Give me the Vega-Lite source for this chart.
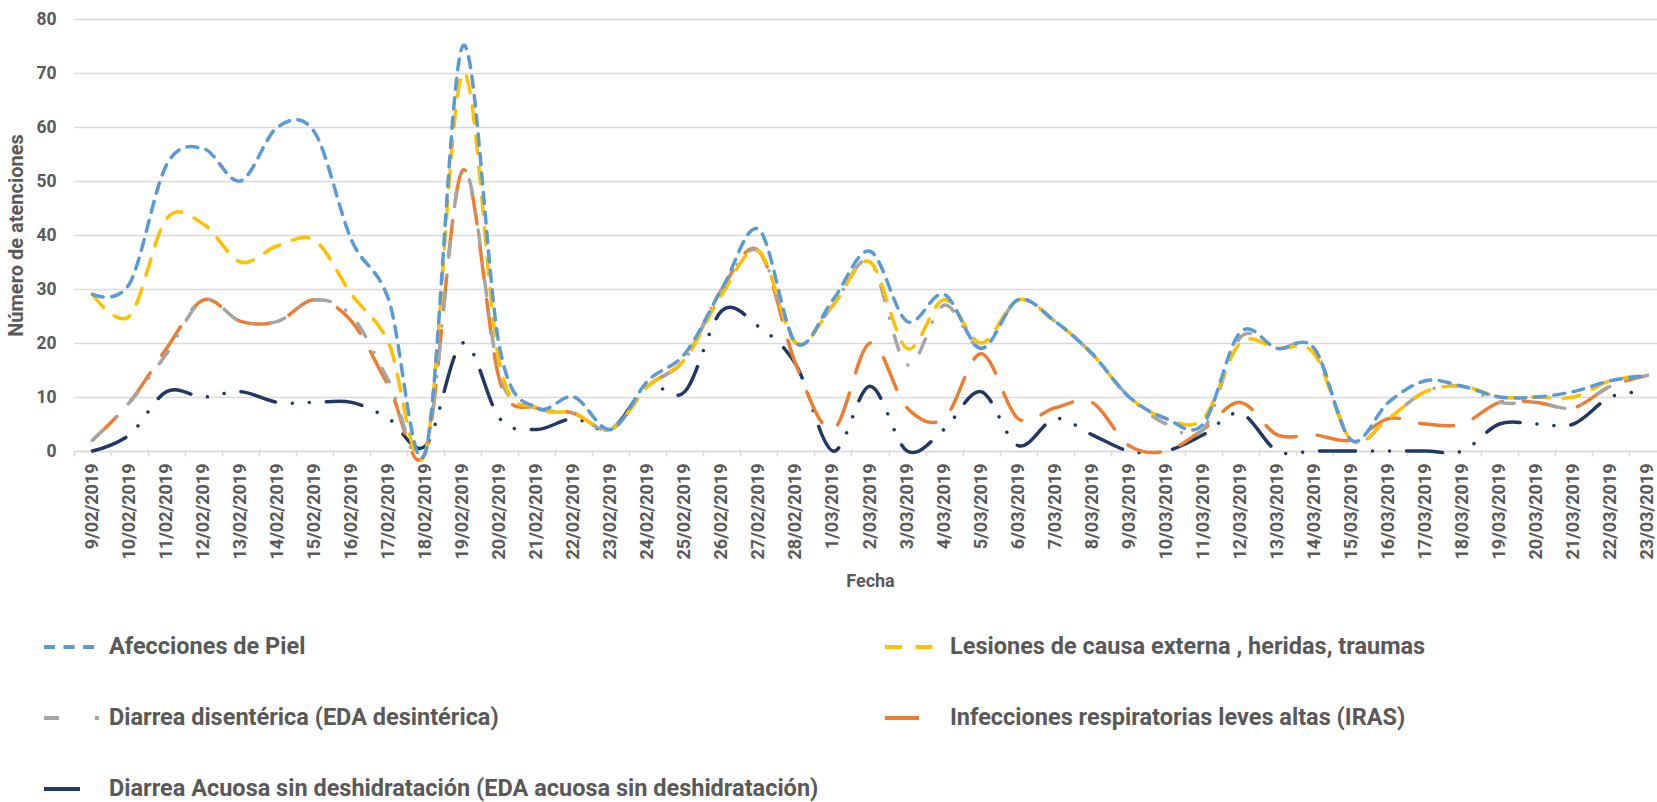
{
  "$schema": "https://vega.github.io/schema/vega-lite/v6.json",
  "width": 1583,
  "height": 432,
  "autosize": {"type": "none"},
  "padding": {"left": 74, "top": 19, "right": 0, "bottom": 351},
  "background": "white",
  "datasets": {
    "rows": [
      {"fecha":"9/02/2019","serie":"Diarrea Acuosa sin deshidratación (EDA acuosa sin deshidratación)","valor":0},
      {"fecha":"10/02/2019","serie":"Diarrea Acuosa sin deshidratación (EDA acuosa sin deshidratación)","valor":3},
      {"fecha":"11/02/2019","serie":"Diarrea Acuosa sin deshidratación (EDA acuosa sin deshidratación)","valor":11},
      {"fecha":"12/02/2019","serie":"Diarrea Acuosa sin deshidratación (EDA acuosa sin deshidratación)","valor":10},
      {"fecha":"13/02/2019","serie":"Diarrea Acuosa sin deshidratación (EDA acuosa sin deshidratación)","valor":11},
      {"fecha":"14/02/2019","serie":"Diarrea Acuosa sin deshidratación (EDA acuosa sin deshidratación)","valor":9},
      {"fecha":"15/02/2019","serie":"Diarrea Acuosa sin deshidratación (EDA acuosa sin deshidratación)","valor":9},
      {"fecha":"16/02/2019","serie":"Diarrea Acuosa sin deshidratación (EDA acuosa sin deshidratación)","valor":9},
      {"fecha":"17/02/2019","serie":"Diarrea Acuosa sin deshidratación (EDA acuosa sin deshidratación)","valor":6},
      {"fecha":"18/02/2019","serie":"Diarrea Acuosa sin deshidratación (EDA acuosa sin deshidratación)","valor":1},
      {"fecha":"19/02/2019","serie":"Diarrea Acuosa sin deshidratación (EDA acuosa sin deshidratación)","valor":20},
      {"fecha":"20/02/2019","serie":"Diarrea Acuosa sin deshidratación (EDA acuosa sin deshidratación)","valor":6},
      {"fecha":"21/02/2019","serie":"Diarrea Acuosa sin deshidratación (EDA acuosa sin deshidratación)","valor":4},
      {"fecha":"22/02/2019","serie":"Diarrea Acuosa sin deshidratación (EDA acuosa sin deshidratación)","valor":6},
      {"fecha":"23/02/2019","serie":"Diarrea Acuosa sin deshidratación (EDA acuosa sin deshidratación)","valor":4},
      {"fecha":"24/02/2019","serie":"Diarrea Acuosa sin deshidratación (EDA acuosa sin deshidratación)","valor":12},
      {"fecha":"25/02/2019","serie":"Diarrea Acuosa sin deshidratación (EDA acuosa sin deshidratación)","valor":11},
      {"fecha":"26/02/2019","serie":"Diarrea Acuosa sin deshidratación (EDA acuosa sin deshidratación)","valor":26},
      {"fecha":"27/02/2019","serie":"Diarrea Acuosa sin deshidratación (EDA acuosa sin deshidratación)","valor":23},
      {"fecha":"28/02/2019","serie":"Diarrea Acuosa sin deshidratación (EDA acuosa sin deshidratación)","valor":16},
      {"fecha":"1/03/2019","serie":"Diarrea Acuosa sin deshidratación (EDA acuosa sin deshidratación)","valor":0},
      {"fecha":"2/03/2019","serie":"Diarrea Acuosa sin deshidratación (EDA acuosa sin deshidratación)","valor":12},
      {"fecha":"3/03/2019","serie":"Diarrea Acuosa sin deshidratación (EDA acuosa sin deshidratación)","valor":0},
      {"fecha":"4/03/2019","serie":"Diarrea Acuosa sin deshidratación (EDA acuosa sin deshidratación)","valor":4},
      {"fecha":"5/03/2019","serie":"Diarrea Acuosa sin deshidratación (EDA acuosa sin deshidratación)","valor":11},
      {"fecha":"6/03/2019","serie":"Diarrea Acuosa sin deshidratación (EDA acuosa sin deshidratación)","valor":1},
      {"fecha":"7/03/2019","serie":"Diarrea Acuosa sin deshidratación (EDA acuosa sin deshidratación)","valor":6},
      {"fecha":"8/03/2019","serie":"Diarrea Acuosa sin deshidratación (EDA acuosa sin deshidratación)","valor":3},
      {"fecha":"9/03/2019","serie":"Diarrea Acuosa sin deshidratación (EDA acuosa sin deshidratación)","valor":0},
      {"fecha":"10/03/2019","serie":"Diarrea Acuosa sin deshidratación (EDA acuosa sin deshidratación)","valor":0},
      {"fecha":"11/03/2019","serie":"Diarrea Acuosa sin deshidratación (EDA acuosa sin deshidratación)","valor":3},
      {"fecha":"12/03/2019","serie":"Diarrea Acuosa sin deshidratación (EDA acuosa sin deshidratación)","valor":7},
      {"fecha":"13/03/2019","serie":"Diarrea Acuosa sin deshidratación (EDA acuosa sin deshidratación)","valor":0},
      {"fecha":"14/03/2019","serie":"Diarrea Acuosa sin deshidratación (EDA acuosa sin deshidratación)","valor":0},
      {"fecha":"15/03/2019","serie":"Diarrea Acuosa sin deshidratación (EDA acuosa sin deshidratación)","valor":0},
      {"fecha":"16/03/2019","serie":"Diarrea Acuosa sin deshidratación (EDA acuosa sin deshidratación)","valor":0},
      {"fecha":"17/03/2019","serie":"Diarrea Acuosa sin deshidratación (EDA acuosa sin deshidratación)","valor":0},
      {"fecha":"18/03/2019","serie":"Diarrea Acuosa sin deshidratación (EDA acuosa sin deshidratación)","valor":0},
      {"fecha":"19/03/2019","serie":"Diarrea Acuosa sin deshidratación (EDA acuosa sin deshidratación)","valor":5},
      {"fecha":"20/03/2019","serie":"Diarrea Acuosa sin deshidratación (EDA acuosa sin deshidratación)","valor":5},
      {"fecha":"21/03/2019","serie":"Diarrea Acuosa sin deshidratación (EDA acuosa sin deshidratación)","valor":5},
      {"fecha":"22/03/2019","serie":"Diarrea Acuosa sin deshidratación (EDA acuosa sin deshidratación)","valor":10},
      {"fecha":"23/03/2019","serie":"Diarrea Acuosa sin deshidratación (EDA acuosa sin deshidratación)","valor":11},

      {"fecha":"9/02/2019","serie":"Infecciones respiratorias leves altas (IRAS)","valor":2},
      {"fecha":"10/02/2019","serie":"Infecciones respiratorias leves altas (IRAS)","valor":9},
      {"fecha":"11/02/2019","serie":"Infecciones respiratorias leves altas (IRAS)","valor":19},
      {"fecha":"12/02/2019","serie":"Infecciones respiratorias leves altas (IRAS)","valor":28},
      {"fecha":"13/02/2019","serie":"Infecciones respiratorias leves altas (IRAS)","valor":24},
      {"fecha":"14/02/2019","serie":"Infecciones respiratorias leves altas (IRAS)","valor":24},
      {"fecha":"15/02/2019","serie":"Infecciones respiratorias leves altas (IRAS)","valor":28},
      {"fecha":"16/02/2019","serie":"Infecciones respiratorias leves altas (IRAS)","valor":24},
      {"fecha":"17/02/2019","serie":"Infecciones respiratorias leves altas (IRAS)","valor":12},
      {"fecha":"18/02/2019","serie":"Infecciones respiratorias leves altas (IRAS)","valor":0},
      {"fecha":"19/02/2019","serie":"Infecciones respiratorias leves altas (IRAS)","valor":52},
      {"fecha":"20/02/2019","serie":"Infecciones respiratorias leves altas (IRAS)","valor":13},
      {"fecha":"21/02/2019","serie":"Infecciones respiratorias leves altas (IRAS)","valor":8},
      {"fecha":"22/02/2019","serie":"Infecciones respiratorias leves altas (IRAS)","valor":7},
      {"fecha":"23/02/2019","serie":"Infecciones respiratorias leves altas (IRAS)","valor":4},
      {"fecha":"24/02/2019","serie":"Infecciones respiratorias leves altas (IRAS)","valor":12},
      {"fecha":"25/02/2019","serie":"Infecciones respiratorias leves altas (IRAS)","valor":17},
      {"fecha":"26/02/2019","serie":"Infecciones respiratorias leves altas (IRAS)","valor":30},
      {"fecha":"27/02/2019","serie":"Infecciones respiratorias leves altas (IRAS)","valor":37},
      {"fecha":"28/02/2019","serie":"Infecciones respiratorias leves altas (IRAS)","valor":16},
      {"fecha":"1/03/2019","serie":"Infecciones respiratorias leves altas (IRAS)","valor":4},
      {"fecha":"2/03/2019","serie":"Infecciones respiratorias leves altas (IRAS)","valor":20},
      {"fecha":"3/03/2019","serie":"Infecciones respiratorias leves altas (IRAS)","valor":8},
      {"fecha":"4/03/2019","serie":"Infecciones respiratorias leves altas (IRAS)","valor":6},
      {"fecha":"5/03/2019","serie":"Infecciones respiratorias leves altas (IRAS)","valor":18},
      {"fecha":"6/03/2019","serie":"Infecciones respiratorias leves altas (IRAS)","valor":6},
      {"fecha":"7/03/2019","serie":"Infecciones respiratorias leves altas (IRAS)","valor":8},
      {"fecha":"8/03/2019","serie":"Infecciones respiratorias leves altas (IRAS)","valor":9},
      {"fecha":"9/03/2019","serie":"Infecciones respiratorias leves altas (IRAS)","valor":1},
      {"fecha":"10/03/2019","serie":"Infecciones respiratorias leves altas (IRAS)","valor":0},
      {"fecha":"11/03/2019","serie":"Infecciones respiratorias leves altas (IRAS)","valor":4},
      {"fecha":"12/03/2019","serie":"Infecciones respiratorias leves altas (IRAS)","valor":9},
      {"fecha":"13/03/2019","serie":"Infecciones respiratorias leves altas (IRAS)","valor":3},
      {"fecha":"14/03/2019","serie":"Infecciones respiratorias leves altas (IRAS)","valor":3},
      {"fecha":"15/03/2019","serie":"Infecciones respiratorias leves altas (IRAS)","valor":2},
      {"fecha":"16/03/2019","serie":"Infecciones respiratorias leves altas (IRAS)","valor":6},
      {"fecha":"17/03/2019","serie":"Infecciones respiratorias leves altas (IRAS)","valor":5},
      {"fecha":"18/03/2019","serie":"Infecciones respiratorias leves altas (IRAS)","valor":5},
      {"fecha":"19/03/2019","serie":"Infecciones respiratorias leves altas (IRAS)","valor":9},
      {"fecha":"20/03/2019","serie":"Infecciones respiratorias leves altas (IRAS)","valor":9},
      {"fecha":"21/03/2019","serie":"Infecciones respiratorias leves altas (IRAS)","valor":8},
      {"fecha":"22/03/2019","serie":"Infecciones respiratorias leves altas (IRAS)","valor":12},
      {"fecha":"23/03/2019","serie":"Infecciones respiratorias leves altas (IRAS)","valor":14},

      {"fecha":"9/02/2019","serie":"Diarrea disentérica (EDA desintérica)","valor":2},
      {"fecha":"10/02/2019","serie":"Diarrea disentérica (EDA desintérica)","valor":9},
      {"fecha":"11/02/2019","serie":"Diarrea disentérica (EDA desintérica)","valor":18},
      {"fecha":"12/02/2019","serie":"Diarrea disentérica (EDA desintérica)","valor":28},
      {"fecha":"13/02/2019","serie":"Diarrea disentérica (EDA desintérica)","valor":24},
      {"fecha":"14/02/2019","serie":"Diarrea disentérica (EDA desintérica)","valor":24},
      {"fecha":"15/02/2019","serie":"Diarrea disentérica (EDA desintérica)","valor":28},
      {"fecha":"16/02/2019","serie":"Diarrea disentérica (EDA desintérica)","valor":25},
      {"fecha":"17/02/2019","serie":"Diarrea disentérica (EDA desintérica)","valor":13},
      {"fecha":"18/02/2019","serie":"Diarrea disentérica (EDA desintérica)","valor":0},
      {"fecha":"19/02/2019","serie":"Diarrea disentérica (EDA desintérica)","valor":52},
      {"fecha":"20/02/2019","serie":"Diarrea disentérica (EDA desintérica)","valor":14},
      {"fecha":"21/02/2019","serie":"Diarrea disentérica (EDA desintérica)","valor":8},
      {"fecha":"22/02/2019","serie":"Diarrea disentérica (EDA desintérica)","valor":7},
      {"fecha":"23/02/2019","serie":"Diarrea disentérica (EDA desintérica)","valor":4},
      {"fecha":"24/02/2019","serie":"Diarrea disentérica (EDA desintérica)","valor":12},
      {"fecha":"25/02/2019","serie":"Diarrea disentérica (EDA desintérica)","valor":17},
      {"fecha":"26/02/2019","serie":"Diarrea disentérica (EDA desintérica)","valor":30},
      {"fecha":"27/02/2019","serie":"Diarrea disentérica (EDA desintérica)","valor":37},
      {"fecha":"28/02/2019","serie":"Diarrea disentérica (EDA desintérica)","valor":20},
      {"fecha":"1/03/2019","serie":"Diarrea disentérica (EDA desintérica)","valor":27},
      {"fecha":"2/03/2019","serie":"Diarrea disentérica (EDA desintérica)","valor":35},
      {"fecha":"3/03/2019","serie":"Diarrea disentérica (EDA desintérica)","valor":16},
      {"fecha":"4/03/2019","serie":"Diarrea disentérica (EDA desintérica)","valor":27},
      {"fecha":"5/03/2019","serie":"Diarrea disentérica (EDA desintérica)","valor":19},
      {"fecha":"6/03/2019","serie":"Diarrea disentérica (EDA desintérica)","valor":28},
      {"fecha":"7/03/2019","serie":"Diarrea disentérica (EDA desintérica)","valor":24},
      {"fecha":"8/03/2019","serie":"Diarrea disentérica (EDA desintérica)","valor":18},
      {"fecha":"9/03/2019","serie":"Diarrea disentérica (EDA desintérica)","valor":10},
      {"fecha":"10/03/2019","serie":"Diarrea disentérica (EDA desintérica)","valor":5},
      {"fecha":"11/03/2019","serie":"Diarrea disentérica (EDA desintérica)","valor":4},
      {"fecha":"12/03/2019","serie":"Diarrea disentérica (EDA desintérica)","valor":21},
      {"fecha":"13/03/2019","serie":"Diarrea disentérica (EDA desintérica)","valor":19},
      {"fecha":"14/03/2019","serie":"Diarrea disentérica (EDA desintérica)","valor":19},
      {"fecha":"15/03/2019","serie":"Diarrea disentérica (EDA desintérica)","valor":2},
      {"fecha":"16/03/2019","serie":"Diarrea disentérica (EDA desintérica)","valor":6},
      {"fecha":"17/03/2019","serie":"Diarrea disentérica (EDA desintérica)","valor":11},
      {"fecha":"18/03/2019","serie":"Diarrea disentérica (EDA desintérica)","valor":12},
      {"fecha":"19/03/2019","serie":"Diarrea disentérica (EDA desintérica)","valor":9},
      {"fecha":"20/03/2019","serie":"Diarrea disentérica (EDA desintérica)","valor":9},
      {"fecha":"21/03/2019","serie":"Diarrea disentérica (EDA desintérica)","valor":8},
      {"fecha":"22/03/2019","serie":"Diarrea disentérica (EDA desintérica)","valor":12},
      {"fecha":"23/03/2019","serie":"Diarrea disentérica (EDA desintérica)","valor":14},

      {"fecha":"9/02/2019","serie":"Lesiones de causa externa , heridas, traumas","valor":29},
      {"fecha":"10/02/2019","serie":"Lesiones de causa externa , heridas, traumas","valor":25},
      {"fecha":"11/02/2019","serie":"Lesiones de causa externa , heridas, traumas","valor":43},
      {"fecha":"12/02/2019","serie":"Lesiones de causa externa , heridas, traumas","valor":42},
      {"fecha":"13/02/2019","serie":"Lesiones de causa externa , heridas, traumas","valor":35},
      {"fecha":"14/02/2019","serie":"Lesiones de causa externa , heridas, traumas","valor":38},
      {"fecha":"15/02/2019","serie":"Lesiones de causa externa , heridas, traumas","valor":39},
      {"fecha":"16/02/2019","serie":"Lesiones de causa externa , heridas, traumas","valor":29},
      {"fecha":"17/02/2019","serie":"Lesiones de causa externa , heridas, traumas","valor":20},
      {"fecha":"18/02/2019","serie":"Lesiones de causa externa , heridas, traumas","valor":0},
      {"fecha":"19/02/2019","serie":"Lesiones de causa externa , heridas, traumas","valor":70},
      {"fecha":"20/02/2019","serie":"Lesiones de causa externa , heridas, traumas","valor":16},
      {"fecha":"21/02/2019","serie":"Lesiones de causa externa , heridas, traumas","valor":8},
      {"fecha":"22/02/2019","serie":"Lesiones de causa externa , heridas, traumas","valor":7},
      {"fecha":"23/02/2019","serie":"Lesiones de causa externa , heridas, traumas","valor":4},
      {"fecha":"24/02/2019","serie":"Lesiones de causa externa , heridas, traumas","valor":12},
      {"fecha":"25/02/2019","serie":"Lesiones de causa externa , heridas, traumas","valor":17},
      {"fecha":"26/02/2019","serie":"Lesiones de causa externa , heridas, traumas","valor":29},
      {"fecha":"27/02/2019","serie":"Lesiones de causa externa , heridas, traumas","valor":37},
      {"fecha":"28/02/2019","serie":"Lesiones de causa externa , heridas, traumas","valor":20},
      {"fecha":"1/03/2019","serie":"Lesiones de causa externa , heridas, traumas","valor":27},
      {"fecha":"2/03/2019","serie":"Lesiones de causa externa , heridas, traumas","valor":35},
      {"fecha":"3/03/2019","serie":"Lesiones de causa externa , heridas, traumas","valor":19},
      {"fecha":"4/03/2019","serie":"Lesiones de causa externa , heridas, traumas","valor":28},
      {"fecha":"5/03/2019","serie":"Lesiones de causa externa , heridas, traumas","valor":20},
      {"fecha":"6/03/2019","serie":"Lesiones de causa externa , heridas, traumas","valor":28},
      {"fecha":"7/03/2019","serie":"Lesiones de causa externa , heridas, traumas","valor":24},
      {"fecha":"8/03/2019","serie":"Lesiones de causa externa , heridas, traumas","valor":18},
      {"fecha":"9/03/2019","serie":"Lesiones de causa externa , heridas, traumas","valor":10},
      {"fecha":"10/03/2019","serie":"Lesiones de causa externa , heridas, traumas","valor":6},
      {"fecha":"11/03/2019","serie":"Lesiones de causa externa , heridas, traumas","valor":6},
      {"fecha":"12/03/2019","serie":"Lesiones de causa externa , heridas, traumas","valor":20},
      {"fecha":"13/03/2019","serie":"Lesiones de causa externa , heridas, traumas","valor":19},
      {"fecha":"14/03/2019","serie":"Lesiones de causa externa , heridas, traumas","valor":18},
      {"fecha":"15/03/2019","serie":"Lesiones de causa externa , heridas, traumas","valor":2},
      {"fecha":"16/03/2019","serie":"Lesiones de causa externa , heridas, traumas","valor":6},
      {"fecha":"17/03/2019","serie":"Lesiones de causa externa , heridas, traumas","valor":11},
      {"fecha":"18/03/2019","serie":"Lesiones de causa externa , heridas, traumas","valor":12},
      {"fecha":"19/03/2019","serie":"Lesiones de causa externa , heridas, traumas","valor":10},
      {"fecha":"20/03/2019","serie":"Lesiones de causa externa , heridas, traumas","valor":10},
      {"fecha":"21/03/2019","serie":"Lesiones de causa externa , heridas, traumas","valor":10},
      {"fecha":"22/03/2019","serie":"Lesiones de causa externa , heridas, traumas","valor":13},
      {"fecha":"23/03/2019","serie":"Lesiones de causa externa , heridas, traumas","valor":14},

      {"fecha":"9/02/2019","serie":"Afecciones de Piel","valor":29},
      {"fecha":"10/02/2019","serie":"Afecciones de Piel","valor":31},
      {"fecha":"11/02/2019","serie":"Afecciones de Piel","valor":53},
      {"fecha":"12/02/2019","serie":"Afecciones de Piel","valor":56},
      {"fecha":"13/02/2019","serie":"Afecciones de Piel","valor":50},
      {"fecha":"14/02/2019","serie":"Afecciones de Piel","valor":60},
      {"fecha":"15/02/2019","serie":"Afecciones de Piel","valor":59},
      {"fecha":"16/02/2019","serie":"Afecciones de Piel","valor":39},
      {"fecha":"17/02/2019","serie":"Afecciones de Piel","valor":28},
      {"fecha":"18/02/2019","serie":"Afecciones de Piel","valor":0},
      {"fecha":"19/02/2019","serie":"Afecciones de Piel","valor":75},
      {"fecha":"20/02/2019","serie":"Afecciones de Piel","valor":19},
      {"fecha":"21/02/2019","serie":"Afecciones de Piel","valor":8},
      {"fecha":"22/02/2019","serie":"Afecciones de Piel","valor":10},
      {"fecha":"23/02/2019","serie":"Afecciones de Piel","valor":4},
      {"fecha":"24/02/2019","serie":"Afecciones de Piel","valor":13},
      {"fecha":"25/02/2019","serie":"Afecciones de Piel","valor":18},
      {"fecha":"26/02/2019","serie":"Afecciones de Piel","valor":30},
      {"fecha":"27/02/2019","serie":"Afecciones de Piel","valor":41},
      {"fecha":"28/02/2019","serie":"Afecciones de Piel","valor":20},
      {"fecha":"1/03/2019","serie":"Afecciones de Piel","valor":28},
      {"fecha":"2/03/2019","serie":"Afecciones de Piel","valor":37},
      {"fecha":"3/03/2019","serie":"Afecciones de Piel","valor":24},
      {"fecha":"4/03/2019","serie":"Afecciones de Piel","valor":29},
      {"fecha":"5/03/2019","serie":"Afecciones de Piel","valor":19},
      {"fecha":"6/03/2019","serie":"Afecciones de Piel","valor":28},
      {"fecha":"7/03/2019","serie":"Afecciones de Piel","valor":24},
      {"fecha":"8/03/2019","serie":"Afecciones de Piel","valor":18},
      {"fecha":"9/03/2019","serie":"Afecciones de Piel","valor":10},
      {"fecha":"10/03/2019","serie":"Afecciones de Piel","valor":6},
      {"fecha":"11/03/2019","serie":"Afecciones de Piel","valor":5},
      {"fecha":"12/03/2019","serie":"Afecciones de Piel","valor":22},
      {"fecha":"13/03/2019","serie":"Afecciones de Piel","valor":19},
      {"fecha":"14/03/2019","serie":"Afecciones de Piel","valor":19},
      {"fecha":"15/03/2019","serie":"Afecciones de Piel","valor":2},
      {"fecha":"16/03/2019","serie":"Afecciones de Piel","valor":9},
      {"fecha":"17/03/2019","serie":"Afecciones de Piel","valor":13},
      {"fecha":"18/03/2019","serie":"Afecciones de Piel","valor":12},
      {"fecha":"19/03/2019","serie":"Afecciones de Piel","valor":10},
      {"fecha":"20/03/2019","serie":"Afecciones de Piel","valor":10},
      {"fecha":"21/03/2019","serie":"Afecciones de Piel","valor":11},
      {"fecha":"22/03/2019","serie":"Afecciones de Piel","valor":13},
      {"fecha":"23/03/2019","serie":"Afecciones de Piel","valor":14}
    ]
  },
  "data": {"name": "rows"},
  "mark": {"type": "line", "interpolate": "cardinal", "strokeWidth": 3.5, "strokeCap": "round"},
  "encoding": {
    "x": {
      "field": "fecha",
      "type": "ordinal",
      "sort": null,
      "bandPosition": 0.5,
      "scale": {"type": "band", "paddingInner": 0, "paddingOuter": 0, "range": [0, 1592]},
      "axis": {
        "title": "Fecha",
        "labelAngle": -90,
        "tickBand": "extent",
        "grid": false,
        "domainColor": "#D9D9D9",
        "domainWidth": 1.5,
        "tickColor": "#D9D9D9",
        "tickWidth": 1.5,
        "tickSize": 5,
        "labelPadding": 7,
        "labelOverlap": false,
        "labelFont": "Roboto",
        "labelFontSize": 18,
        "labelFontWeight": "bold",
        "labelColor": "#595959",
        "titleFont": "Roboto",
        "titleFontSize": 18,
        "titleFontWeight": "bold",
        "titleColor": "#595959",
        "titlePadding": 14
      }
    },
    "y": {
      "field": "valor",
      "type": "quantitative",
      "scale": {"domain": [0, 80], "nice": false},
      "axis": {
        "title": "Número de atenciones",
        "values": [0, 10, 20, 30, 40, 50, 60, 70, 80],
        "domain": false,
        "ticks": false,
        "gridColor": "#D9D9D9",
        "gridWidth": 1.5,
        "labelPadding": 18,
        "labelFont": "Roboto",
        "labelFontSize": 17.5,
        "labelFontWeight": "bold",
        "labelColor": "#595959",
        "titleFont": "Roboto",
        "titleFontSize": 20,
        "titleFontWeight": "bold",
        "titleColor": "#595959",
        "titlePadding": 9
      }
    },
    "color": {
      "field": "serie",
      "type": "nominal",
      "scale": {
        "domain": ["Afecciones de Piel", "Diarrea disentérica (EDA desintérica)", "Diarrea Acuosa sin deshidratación (EDA acuosa sin deshidratación)", "Lesiones de causa externa , heridas, traumas", "Infecciones respiratorias leves altas (IRAS)"],
        "range": ["#5B9BD5", "#A5A5A5", "#203864", "#FFC000", "#ED7D31"]
      },
      "legend": {
        "title": null,
        "orient": "none",
        "legendX": -32,
        "legendY": 613,
        "columns": 2,
        "padding": 0,
        "symbolType": "stroke",
        "symbolSize": 3025,
        "symbolStrokeWidth": 4,
        "clipHeight": 30,
        "labelOffset": 8,
        "rowPadding": 41,
        "columnPadding": 64,
        "labelLimit": 900,
        "labelFont": "Roboto",
        "labelFontSize": 23.5,
        "labelFontWeight": "bold",
        "labelColor": "#595959"
      }
    },
    "strokeDash": {
      "field": "serie",
      "type": "nominal",
      "scale": {
        "domain": ["Afecciones de Piel", "Diarrea disentérica (EDA desintérica)", "Diarrea Acuosa sin deshidratación (EDA acuosa sin deshidratación)", "Lesiones de causa externa , heridas, traumas", "Infecciones respiratorias leves altas (IRAS)"],
        "range": [[11, 8.5], [15, 18, 0.01, 18], [36, 17, 0.01, 17, 0.01, 17], [17, 13.5], [34, 21]]
      }
    }
  },
  "config": {
    "font": "Roboto",
    "view": {"stroke": null}
  }
}
